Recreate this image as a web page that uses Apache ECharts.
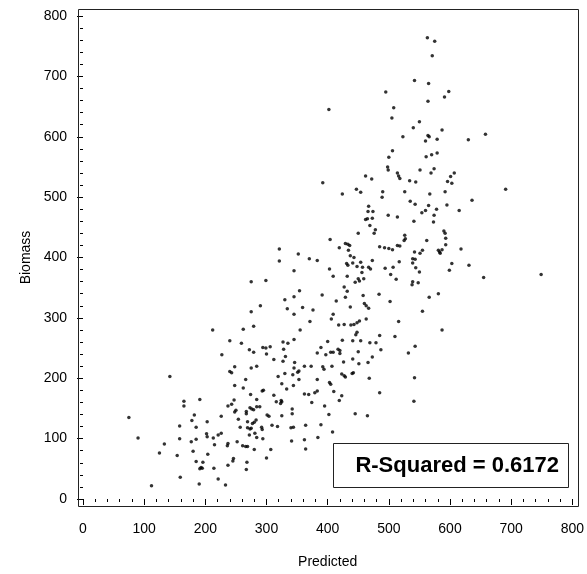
<!DOCTYPE html>
<html>
<head>
<meta charset="utf-8">
<title>Biomass vs Predicted</title>
<script src="https://cdn.jsdelivr.net/npm/echarts@6/dist/echarts.min.js"></script>
<style>
  html, body { margin: 0; padding: 0; background: #fff; }
  #chart { width: 587px; height: 574px; }
</style>
</head>
<body>
<div id="chart"></div>
<script>
// Observed biomass plotted against the model's predicted biomass.
const predicted = [
  290,275,334,359,376,345,371,279,262,212,
  355,345,240,259,327,335,294,299,306,272,
  279,328,300,227,383,331,312,327,346,248,
  240,243,275,284,345,362,373,353,351,343,
  319,330,142,266,353,383,325,248,262,344,
  333,295,293,383,379,362,369,274,312,284,
  247,191,165,165,237,243,324,325,316,323,
  374,289,284,273,276,279,250,248,267,267,
  342,342,182,301,304,325,226,75,178,203,
  254,269,277,280,283,158,185,257,269,273,
  275,292,293,309,318,340,344,364,281,272,
  284,294,202,203,221,226,213,90,158,177,
  185,252,261,266,269,237,236,215,133,341,
  362,384,307,280,125,180,204,154,246,245,
  300,185,196,268,237,193,191,195,214,267,
  364,159,221,190,233,112,
  414,437,460,463,467,502,555,409,406,516,
  463,452,448,438,443,427,418,587,448,446,
  485,510,424,441,454,400,469,479,543,389,
  417,420,405,409,397,420,487,532,450,441,
  473,426,451,466,392,394,407,403,405,423,
  427,429,440,442,468,542,410,485,423,419,
  541,395,402,445,465,389,408,
  560,506,500,561,570,579,498,499,551,574,
  569,514,516,518,462,472,607,601,596,603,
  534,544,392,447,454,424,490,489,526,567,
  592,691,636,535,543,565,595,467,466,474,
  560,554,578,615,574,499,514,473,462,465,
  541,573,469,478,476,450,526,527,525,590,
  592,593,562,404,429,436,433,419,434,485,
  493,500,506,514,518,593,555,551,542,581,
  583,587,584,618,437,443,473,431,441,433,
  454,448,457,467,470,539,543,539,517,494,
  507,403,603,631,599,544,550,456,409,432,
  503,450,459,452,445,655,749,512,539,548,
  538,427,432,391,429,458,484,566,581,
  563,575,571,542,565,495,598,591,564,402,
  508,505,550,540,587,523,564,566,579,630,
  658,
  321,352,370,383,321,345,299,275,354,345,
  330
];

const biomass = [
  320,310,315,317,313,306,294,286,281,280,
  280,264,262,258,260,258,251,250,252,247,
  243,248,240,239,242,236,231,228,226,219,
  211,209,217,220,217,220,220,212,210,206,
  203,208,203,198,198,198,191,188,184,188,
  182,180,179,179,176,174,173,173,172,165,
  164,165,162,154,154,157,163,161,161,158,
  160,153,153,151,149,148,147,144,145,141,
  149,141,139,139,137,138,137,135,130,128,
  132,128,125,127,131,121,119,119,118,116,
  117,119,115,122,120,118,119,122,109,106,
  102,100,108,103,106,109,101,101,100,95,
  99,95,88,87,87,92,88,90,91,96,
  98,102,82,82,76,79,74,72,67,63,
  68,62,61,61,56,52,50,51,51,49,
  83,36,33,25,23,22,
  328,318,324,320,316,327,311,306,298,294,
  298,295,292,288,289,289,288,280,276,272,
  271,269,263,262,262,261,259,259,253,251,
  248,246,243,243,239,241,247,242,244,232,
  235,227,224,226,219,215,220,193,190,207,
  204,202,208,209,200,201,178,176,171,163,
  162,154,140,141,138,123,111,
  593,577,566,567,570,573,550,545,545,547,
  540,540,535,531,535,530,540,534,526,523,
  527,525,524,513,508,505,509,500,509,505,
  509,513,495,493,488,486,487,485,476,476,
  478,474,480,478,470,470,467,465,463,464,
  460,459,453,446,440,440,437,431,428,444,
  440,432,428,430,423,420,422,416,412,418,
  416,415,413,420,419,421,412,407,409,412,
  409,413,407,414,403,400,395,390,391,387,
  392,385,384,384,381,398,397,391,393,382,
  384,381,390,387,379,383,376,375,369,369,
  372,365,365,361,359,367,372,364,360,358,
  355,351,344,338,334,337,339,334,340,
  764,758,734,693,688,674,675,666,659,645,
  648,631,625,615,611,600,602,600,596,595,
  604,
  414,406,398,395,394,378,362,360,345,335,
  330
];

const axisMin = 0;
const axisMax = 800;
const axisStep = 100;
const xTitle = 'Predicted';
const yTitle = 'Biomass';
const fitLabel = 'R-Squared = 0.6172';

const points = predicted.map((p, i) => [p, biomass[i]]);

const font = 'Liberation Sans, Arial, Helvetica, sans-serif';
const ink = '#000';

const chart = echarts.init(document.getElementById('chart'), null, { renderer: 'canvas' });

const commonAxis = {
  type: 'value',
  min: axisMin,
  max: axisMax,
  interval: axisStep,
  nameLocation: 'middle',
  nameTextStyle: { fontFamily: font, fontSize: 14, color: ink },
  axisLine: { show: false },
  axisTick: { show: true, length: 6, lineStyle: { color: ink, width: 1 } },
  minorTick: { show: true, splitNumber: 5, length: 3, lineStyle: { color: ink, width: 1 } },
  splitLine: { show: false },
  minorSplitLine: { show: false },
  axisLabel: { fontFamily: font, fontSize: 14, color: ink }
};

chart.setOption({
  animation: false,
  backgroundColor: '#fff',
  grid: { left: 83, right: 12, top: 16, bottom: 75 },
  xAxis: Object.assign({}, commonAxis, {
    name: xTitle,
    nameGap: 49,
    offset: 7,
    axisLabel: Object.assign({}, commonAxis.axisLabel, { margin: 16 })
  }),
  yAxis: Object.assign({}, commonAxis, {
    name: yTitle,
    nameGap: 44,
    nameRotate: 90,
    offset: 5,
    axisLabel: Object.assign({}, commonAxis.axisLabel, { margin: 11 })
  }),
  graphic: [
    {
      // plot frame
      type: 'rect',
      z: 1,
      silent: true,
      shape: { x: 78.5, y: 9.5, width: 500, height: 497 },
      style: { fill: 'none', stroke: '#222', lineWidth: 1 }
    },
    {
      // fit statistic inset
      type: 'group',
      z: 10,
      children: [
        {
          type: 'rect',
          shape: { x: 333.5, y: 443.5, width: 235, height: 44 },
          style: { fill: '#fff', stroke: '#222', lineWidth: 1 }
        },
        {
          type: 'text',
          style: {
            x: 559,
            y: 466,
            text: fitLabel,
            align: 'right',
            verticalAlign: 'middle',
            fontFamily: font,
            fontWeight: 'bold',
            fontSize: 22,
            fill: ink
          }
        }
      ]
    }
  ],
  series: [
    {
      type: 'scatter',
      data: points,
      symbol: 'circle',
      symbolSize: 3.5,
      itemStyle: { color: ink },
      silent: true,
      z: 5
    }
  ]
});
</script>
</body>
</html>
